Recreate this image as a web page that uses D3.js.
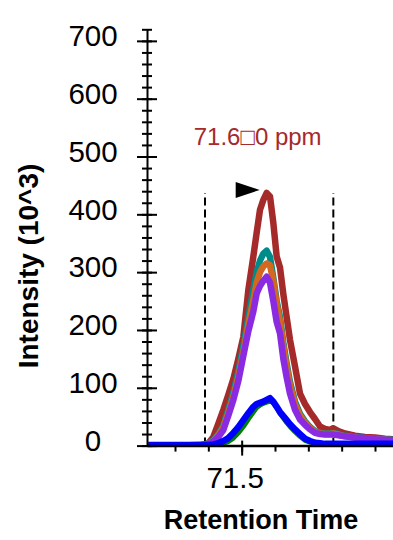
<!DOCTYPE html>
<html>
<head>
<meta charset="utf-8">
<script src="https://cdn.jsdelivr.net/npm/d3@7"></script>
<style>
  body { margin: 0; background: #fff; }
  svg { display: block; font-family: "Liberation Sans", Arial, sans-serif; }
</style>
</head>
<body>
<div id="chart"></div>
<script>
// retention times (min) shared by all transitions
const times = [71.22, 71.30, 71.38, 71.40, 71.415, 71.43, 71.445, 71.46, 71.475, 71.49,
  71.505, 71.52, 71.535, 71.545, 71.555, 71.565, 71.575, 71.585, 71.595, 71.605,
  71.615, 71.625, 71.635, 71.645, 71.66, 71.675, 71.69, 71.705, 71.72, 71.735,
  71.75, 71.765, 71.775, 71.79, 71.81, 71.84, 71.87, 71.90, 71.93, 71.955];

// intensities (10^3)
const brown = [0, 0, 1, 4, 15, 38, 62, 88, 115, 150, 188, 269, 327, 368, 408, 425, 437, 431, 385, 327,
  308, 262, 222, 183, 137, 90, 72, 58, 46, 33, 29, 27, 30, 25, 21, 17, 15, 14, 12, 11];
const teal = [0, 0, 1, 4, 9, 20, 35, 62, 92, 128, 172, 222, 270, 300, 320, 332, 337, 326, 290, 250,
  222, 178, 142, 110, 76, 55, 42, 32, 25, 22, 21, 21, 22, 20, 17, 15, 13, 12, 11, 10];
const orange = [0, 0, 1, 3, 8, 18, 32, 57, 85, 120, 162, 210, 252, 282, 300, 310, 315, 312, 285, 245,
  215, 172, 136, 104, 72, 52, 40, 30, 24, 21, 20, 20, 21, 19, 16, 14, 12, 11, 10, 9];
const purple = [0, 0, 1, 3, 7, 15, 27, 52, 79, 112, 155, 198, 232, 263, 276, 285, 292, 282, 250, 214,
  194, 150, 118, 90, 62, 45, 36, 28, 22, 20, 19, 19, 19, 18, 16, 14, 13, 11, 10, 9];
const green = [0, 0, 0, 0, 1, 2, 4, 7, 13, 22, 33, 46, 58, 66, 70, 73, 75, 77, 74, 66,
  56, 48, 40, 33, 24, 16, 9, 6, 4, 3, 3, 2, 2, 2, 2, 2, 2, 2, 2, 2];
const blue = [1, 1, 1, 1, 2, 4, 8, 13, 22, 32, 44, 56, 67, 72, 74, 76, 79, 82, 76, 67,
  58, 51, 44, 37, 28, 20, 12, 8, 5, 4, 3, 3, 3, 3, 3, 3, 3, 3, 3, 3];

const seriesNames = ["brown", "teal", "orange", "purple", "green", "blue"];
const seriesValues = [brown, teal, orange, purple, green, blue];
const seriesColors = ["#a52a2a", "#008b8b", "#d2691e", "#8a2be2", "#008000", "#0000ff"];

const yTickLabels = [0, 100, 200, 300, 400, 500, 600, 700];
const xTickLabels = [71.5];
const integrationBounds = [71.39, 71.775];
const peakLabel = "71.6\u25A10 ppm";

const width = 393;
const height = 540;

const svg = d3.select("#chart").append("svg")
  .attr("width", width)
  .attr("height", height);

const x = d3.scaleLinear().domain([71.216, 71.954]).range([147, 393]);
const y = d3.scaleLinear().domain([0, 720]).range([445.6, 29.3]);

// peak integration boundaries
const peakIdx = d3.maxIndex(brown);
const peakT = times[peakIdx];
const peakV = brown[peakIdx];

svg.selectAll(".bound")
  .data(integrationBounds)
  .enter()
  .append("line")
  .attr("class", "bound")
  .attr("x1", d => x(d))
  .attr("x2", d => x(d))
  .attr("y1", y(0))
  .attr("y2", y(peakV))
  .attr("stroke", "#000")
  .attr("stroke-width", 2)
  .attr("stroke-dasharray", "8,4");

// chromatogram traces
const line = d3.line()
  .x((d, i) => x(times[i]))
  .y(d => y(d));

svg.append("clipPath").attr("id", "clip")
  .append("rect").attr("x", 147).attr("y", 0).attr("width", width - 147).attr("height", 447);

svg.append("g")
  .attr("clip-path", "url(#clip)")
  .selectAll(".trace")
  .data(seriesValues)
  .enter()
  .append("path")
  .attr("class", (d, i) => "trace " + seriesNames[i])
  .attr("d", line)
  .attr("fill", "none")
  .attr("stroke", (d, i) => seriesColors[i])
  .attr("stroke-width", (d, i) => i === 4 ? 5 : 6.5)
  .attr("stroke-linejoin", "round");

// y axis: minor ticks every 20, major every 100
const yMinor = svg.append("g")
  .attr("transform", "translate(147,0)")
  .call(d3.axisLeft(y).tickValues(d3.range(0, 721, 20)).tickFormat("").tickSizeOuter(0));
yMinor.select(".domain").attr("stroke-width", 2);
yMinor.selectAll(".tick line").attr("x1", -5).attr("x2", 5).attr("stroke-width", 2);

const yMajor = svg.append("g")
  .attr("transform", "translate(147,0)")
  .call(d3.axisLeft(y).tickValues(yTickLabels).tickSizeOuter(0));
yMajor.select(".domain").remove();
yMajor.selectAll(".tick line").attr("x1", -10).attr("x2", 10).attr("stroke-width", 2);
yMajor.selectAll(".tick text")
  .attr("x", -54)
  .attr("dy", "0.16em")
  .attr("text-anchor", "middle")
  .attr("font-size", 29.5)
  .attr("fill", "#000");

// x axis
const xMinor = svg.append("g")
  .attr("transform", `translate(0,${y(0)})`)
  .call(d3.axisBottom(x).tickValues(d3.range(71.3, 71.95, 0.1)).tickFormat("").tickSize(6).tickSizeOuter(0));
xMinor.select(".domain").attr("stroke-width", 2.5);
xMinor.selectAll(".tick line").attr("stroke-width", 2);

const xMajor = svg.append("g")
  .attr("transform", `translate(0,${y(0)})`)
  .call(d3.axisBottom(x).tickValues(xTickLabels).tickFormat(d3.format(".1f")).tickSizeOuter(0));
xMajor.select(".domain").remove();
xMajor.selectAll(".tick line").attr("y1", -5).attr("y2", 10).attr("stroke-width", 2);
xMajor.selectAll(".tick text")
  .attr("y", 42)
  .attr("dy", 0)
  .attr("dx", -7)
  .attr("font-size", 29.5)
  .attr("fill", "#000");

// peak marker and label
const px = x(peakT);
const py = y(peakV);
svg.append("path")
  .attr("d", `M${px - 7},${py - 3} L${px - 31},${py - 11} L${px - 31},${py + 5} Z`)
  .attr("fill", "#000");

svg.append("text")
  .attr("x", px - 9)
  .attr("y", 145)
  .attr("text-anchor", "middle")
  .attr("font-size", 24)
  .attr("fill", "#a52a2a")
  .text(peakLabel);

// axis titles
svg.append("text")
  .attr("transform", "translate(38,266) rotate(-90)")
  .attr("text-anchor", "middle")
  .attr("font-size", 28)
  .attr("font-weight", "bold")
  .text("Intensity (10^3)");

svg.append("text")
  .attr("x", 261)
  .attr("y", 529)
  .attr("text-anchor", "middle")
  .attr("font-size", 27)
  .attr("font-weight", "bold")
  .text("Retention Time");
</script>
</body>
</html>
